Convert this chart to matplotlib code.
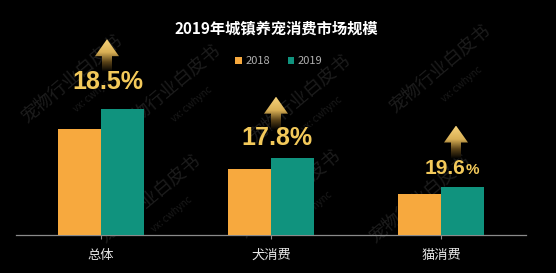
import numpy as np
import matplotlib
matplotlib.use('Agg')
import matplotlib.pyplot as plt
from matplotlib.patches import Polygon
from matplotlib.colors import LinearSegmentedColormap

plt.rcParams['font.family'] = ['Noto Sans CJK SC', 'DejaVu Sans']

# data (亿元)
categories = ['总体', '犬消费', '猫消费']
v2018 = [1708, 1056, 652]
v2019 = [2024, 1244, 780]
growth = ['18.5', '17.8', '19.6']

orange = '#F7A93E'
teal = '#10937E'
gold = '#F3C95A'

W, H = 556, 273
fig = plt.figure(figsize=(W / 100, H / 100), dpi=100, facecolor='black')
ax = fig.add_axes([16 / W, 38 / H, 510 / W, 235 / H])
ax.set_facecolor('black')
ax.set_xlim(-0.5, 2.5)
ax.set_ylim(0, 3780)

# px -> data units
px_x = 3.0 / 510
px_y = 3780.0 / 235

x = np.arange(len(categories))
w = 43 * px_x
ax.bar(x - w / 2, v2018, w, color=orange, zorder=3, label='2018')
ax.bar(x + w / 2, v2019, w, color=teal, zorder=3, label='2019')

for s in ['top', 'left', 'right']:
    ax.spines[s].set_visible(False)
ax.spines['bottom'].set_color('#8a8a8a')
ax.spines['bottom'].set_linewidth(0.9)
ax.set_yticks([])
ax.set_xticks(x)
ax.set_xticklabels(categories)
ax.tick_params(axis='x', colors='#8a8a8a', length=3, width=0.8, pad=7,
               labelsize=9.5, labelcolor='#e6e6e6')

# arrows + growth labels (offsets in px)
arrow_dx = [6, 5, 15]
arrow_up = [70, 61, 61]
label_up = [27, 20, 18]
cmap = LinearSegmentedColormap.from_list(
    'g', [(0, '#000000'), (0.3, '#5a4318'), (0.6, '#d9b055'), (1, '#f6d27a')])
grad = np.linspace(1, 0, 100).reshape(-1, 1)
for i in range(len(categories)):
    xa = x[i] + arrow_dx[i] * px_x
    yt = v2019[i] + arrow_up[i] * px_y
    hw, hh, sw, L = 12 * px_x, 17 * px_y, 5 * px_x, 33 * px_y
    verts = [(xa, yt), (xa + hw, yt - hh), (xa + sw, yt - hh), (xa + sw, yt - L),
             (xa - sw, yt - L), (xa - sw, yt - hh), (xa - hw, yt - hh)]
    poly = Polygon(verts, closed=True, facecolor='none', edgecolor='none')
    ax.add_patch(poly)
    im = ax.imshow(grad, cmap=cmap, extent=[xa - hw, xa + hw, yt - L, yt],
                   aspect='auto', origin='upper', zorder=4)
    im.set_clip_path(poly)

    yl = v2019[i] + label_up[i] * px_y
    if i < 2:
        ax.text(xa + 1 * px_x, yl, growth[i] + '%', ha='center', va='center',
                color=gold, fontsize=18, fontweight='bold',
                family='Liberation Sans', zorder=5)
    else:
        xs = xa + 9 * px_x
        ax.text(xs, yl, growth[i], ha='right', va='center', color=gold,
                fontsize=15, fontweight='bold', family='Liberation Sans', zorder=5)
        ax.text(xs + 1 * px_x, yl - 1 * px_y, '%', ha='left', va='center', color=gold,
                fontsize=11, fontweight='bold', family='Liberation Sans', zorder=5)

ax.set_xlim(-0.5, 2.5)
ax.set_ylim(0, 3780)

fig.text(276 / W, 1 - 29 / H, '2019年城镇养宠消费市场规模', ha='center', va='center',
         color='white', fontsize=11, fontweight='bold')

ax.legend(loc='center', bbox_to_anchor=(279 / W, 1 - 61 / H), bbox_transform=fig.transFigure,
          ncol=2, frameon=False, fontsize=8, labelcolor='#b0b0b0', handlelength=0.6,
          handleheight=0.6, handletextpad=0.3, columnspacing=1.6)

# faint watermarks, behind the bars
marks = [(72, 80), (170, 90), (300, 100), (440, 70), (150, 200), (420, 200), (290, 195)]
for mx, my in marks:
    ax.text(mx / W, 1 - my / H, '宠物行业白皮书', rotation=40, ha='center', va='center',
            color='#1c1c1c', fontsize=13, zorder=1, transform=fig.transFigure)
    ax.text((mx + 22) / W, 1 - (my + 14) / H, 'vx: cwhync', rotation=40, ha='center',
            va='center', color='#1a1a1a', fontsize=7, zorder=1, transform=fig.transFigure)

fig.savefig('out.png', dpi=100, facecolor='black')
